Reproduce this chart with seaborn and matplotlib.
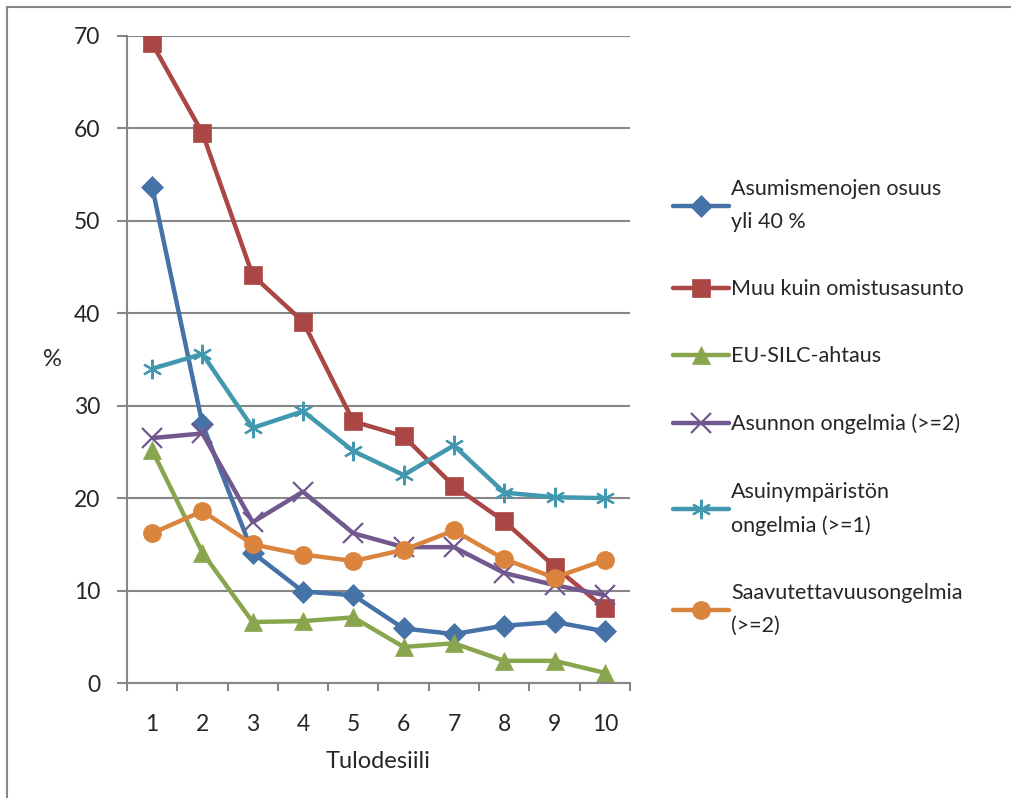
import numpy as np
import pandas as pd
import seaborn as sns
import matplotlib.pyplot as plt
from matplotlib.lines import Line2D

# Data
deciles = [1, 2, 3, 4, 5, 6, 7, 8, 9, 10]
asumismenot = [53.7, 28.0, 14.1, 9.9, 9.5, 5.9, 5.3, 6.2, 6.6, 5.6]
vuokra = [69.2, 59.5, 44.1, 39.1, 28.3, 26.7, 21.3, 17.5, 12.6, 8.1]
ahtaus = [25.2, 14.1, 6.6, 6.7, 7.1, 3.9, 4.3, 2.4, 2.4, 1.1]
asunnon_ongelmia = [26.5, 27.0, 17.4, 20.7, 16.2, 14.7, 14.7, 11.9, 10.6, 9.5]
ymparisto_ongelmia = [34.0, 35.6, 27.6, 29.4, 25.1, 22.5, 25.7, 20.6, 20.1, 20.0]
saavutettavuus = [16.2, 18.6, 15.0, 13.9, 13.2, 14.4, 16.5, 13.4, 11.4, 13.3]

series_names = [
    "Asumismenojen osuus\nyli 40 %",
    "Muu kuin omistusasunto",
    "EU-SILC-ahtaus",
    "Asunnon ongelmia (>=2)",
    "Asuinympäristön\nongelmia (>=1)",
    "Saavutettavuusongelmia\n(>=2)",
]
series_values = [asumismenot, vuokra, ahtaus, asunnon_ongelmia,
                 ymparisto_ongelmia, saavutettavuus]
colors = ["#4572A7", "#AA4643", "#89A54E", "#71588F", "#4198AF", "#DB843D"]
markers = ["D", "s", "^", "x", (6, 2, 0), "o"]

sns.set_style("white")
plt.rcParams["font.family"] = ["Lato", "DejaVu Sans"]

fig = plt.figure(figsize=(10.11, 7.98), dpi=100)
ax = fig.add_axes([0.1256, 0.1441, 0.4975, 0.8108])


def marker_kw(m):
    line_art = m == "x" or isinstance(m, tuple)
    if line_art:
        return dict(markersize=14, markeredgewidth=1.6)
    if m == "D":
        return dict(markersize=11, markeredgewidth=0.5)
    return dict(markersize=13, markeredgewidth=0.5)


for name, vals, c, m in zip(series_names, series_values, colors, markers):
    df = pd.DataFrame({"Tulodesiili": deciles, "%": vals})
    sns.lineplot(data=df, x="Tulodesiili", y="%", color=c, marker=m,
                 linewidth=3.2, markeredgecolor=c, markerfacecolor=c,
                 ax=ax, **marker_kw(m))

# axes layout
ax.set_xlim(0.5, 10.5)
ax.set_ylim(0, 70)
ax.set_yticks(np.arange(0, 71, 10))
ax.set_xticks(deciles)
ax.set_xticks(np.arange(0.5, 10.6, 1), minor=True)
ax.tick_params(axis="x", which="major", length=0, pad=22, labelsize=16.5)
ax.tick_params(axis="x", which="minor", length=6, width=1.5, color="#868686",
               direction="out", bottom=True)
ax.tick_params(axis="y", length=7, width=1.5, color="#868686", pad=12,
               labelsize=16.5, left=True)
ax.grid(axis="y", color="#868686", linewidth=1.5)
ax.set_axisbelow(True)
for s in ["top", "right"]:
    ax.spines[s].set_visible(False)
for s in ["left", "bottom"]:
    ax.spines[s].set_color("#868686")
    ax.spines[s].set_linewidth(1.5)

ax.set_xlabel("Tulodesiili", fontsize=17, labelpad=12)
ax.set_ylabel("%", fontsize=17, rotation=0, va="center", ha="center")
ax.yaxis.set_label_coords(-0.149, 0.5)

handles = [Line2D([], [], color=c, marker=m, linewidth=3.2,
                  markeredgecolor=c, markerfacecolor=c, **marker_kw(m))
           for c, m in zip(colors, markers)]
leg = fig.legend(handles, series_names, loc="upper left",
                 bbox_to_anchor=(0.647, 0.80), frameon=False, fontsize=15.5,
                 handlelength=2.6, handletextpad=0.08, labelspacing=2.2)
for t in leg.get_texts():
    t.set_linespacing(1.8)

# chart area border (top and left visible)
fig.add_artist(Line2D([0.007, 1.0], [0.991, 0.991], color="#868686",
                      linewidth=1.5, transform=fig.transFigure))
fig.add_artist(Line2D([0.007, 0.007], [0.0, 0.991], color="#868686",
                      linewidth=1.5, transform=fig.transFigure))

fig.savefig("out.png", dpi=100)
